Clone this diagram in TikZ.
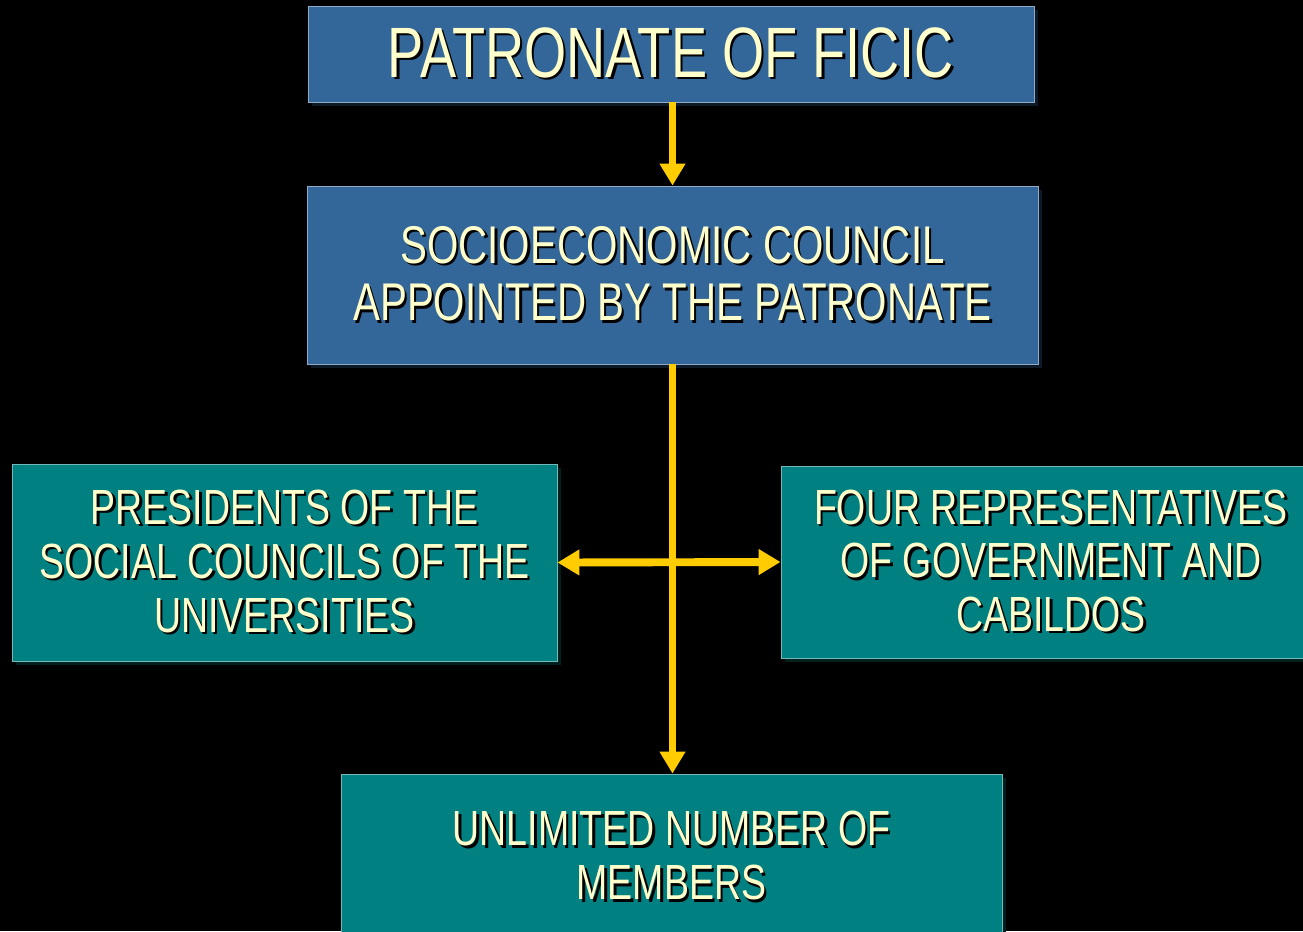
\documentclass[tikz,border=0pt]{standalone}
\usepackage{fontspec}
\setmainfont{Liberation Sans}[FakeStretch=0.76]
\usetikzlibrary{arrows.meta,shadows}
\definecolor{boxblue}{HTML}{336699}
\definecolor{boxteal}{HTML}{008080}
\definecolor{pale}{HTML}{FFFFCC}
\definecolor{arrowyel}{HTML}{FFCC00}
\newcommand\sh[1]{\leavevmode\rlap{\kern1.4pt\raisebox{-1.4pt}{\color{black}#1}}#1}
\tikzset{
  bluebox/.style={inner sep=0pt, fill=boxblue, draw=boxblue!55!white, line width=0.5pt,
    text=pale, align=center,
    drop shadow={shadow xshift=2.3pt, shadow yshift=-2.3pt, fill=boxblue!25!black, opacity=1}},
  tealbox/.style={inner sep=0pt, fill=boxteal, draw=boxteal!55!white, line width=0.5pt,
    text=pale, align=center,
    drop shadow={shadow xshift=2.3pt, shadow yshift=-2.3pt, fill=boxteal!25!black, opacity=1}},
  sz/.style 2 args={minimum width=#1*0.02cm, minimum height=#2*0.02cm},
  conn/.style={draw=arrowyel, line width=4.5pt},
  tip/.tip={Triangle[width=14pt,length=12.5pt]}
}
\begin{document}
\begin{tikzpicture}[x=0.02cm, y=-0.02cm]
\useasboundingbox (0,0) rectangle (1303,931);
\fill[black] (0,0) rectangle (1303,931);
\node[bluebox, sz={726}{96}, font=\fontsize{40.6}{42}\selectfont] (top) at (671,54) {\sh{PATRONATE OF FICIC}};
\node[bluebox, sz={731}{178}, font=\fontsize{30.2}{32.9}\selectfont] (sec) at (672.5,275) {\sh{SOCIOECONOMIC COUNCIL}\\\sh{APPOINTED BY THE PATRONATE}};
\node[tealbox, sz={545}{197}, font=\fontsize{28.1}{30.6}\selectfont] (left) at (284.5,562.5) {\sh{PRESIDENTS OF THE}\\\sh{SOCIAL COUNCILS OF THE}\\\sh{UNIVERSITIES}};
\node[tealbox, sz={540}{192}, font=\fontsize{28.1}{30.6}\selectfont] (right) at (1051,562) {\sh{FOUR REPRESENTATIVES}\\\sh{OF GOVERNMENT AND}\\\sh{CABILDOS}};
\node[tealbox, sz={661}{166}, font=\fontsize{28.1}{30.6}\selectfont] (bot) at (671.5,857) {\sh{UNLIMITED NUMBER OF}\\\sh{MEMBERS}};
\draw[conn, -tip] (sec.north |- top.south) -- (sec.north);
\draw[conn, -tip] (sec.south) -- (sec.south |- bot.north);
\draw[conn, tip-tip] (left.east) -- (right.west);
\end{tikzpicture}
\end{document}
